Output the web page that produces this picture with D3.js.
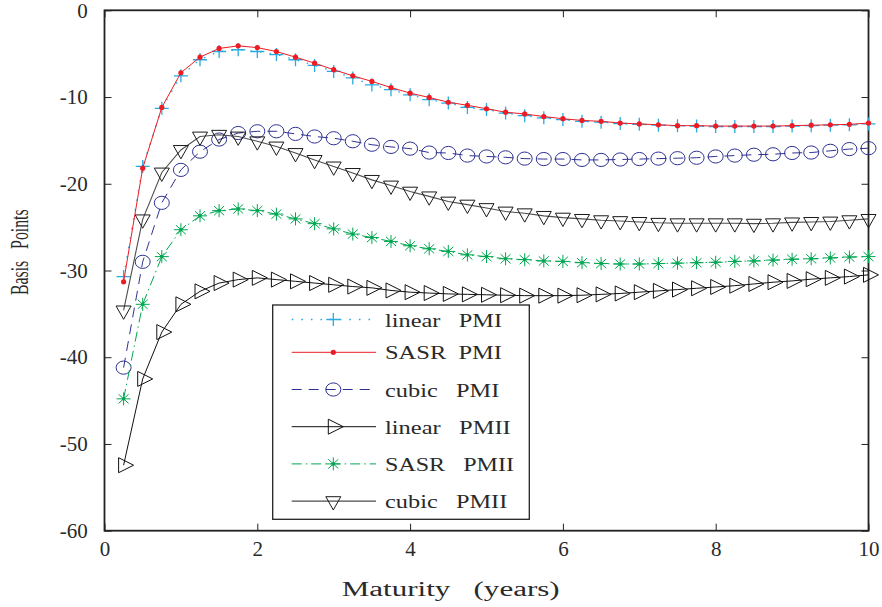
<!DOCTYPE html>
<html><head><meta charset="utf-8">
<script src="https://cdn.jsdelivr.net/npm/d3@7"></script>
<style>
body{margin:0;background:#fff}
svg{display:block}
text{font-family:"Liberation Serif","Times New Roman",serif;fill:#2a2a2a}
</style>
</head><body>
<svg id="c" width="882" height="607"></svg>
<script>
// ---------- data ----------
const maturity = [0.25,0.5,0.75,1,1.25,1.5,1.75,2,2.25,2.5,2.75,3,3.25,3.5,3.75,4,4.25,4.5,4.75,5,
  5.25,5.5,5.75,6,6.25,6.5,6.75,7,7.25,7.5,7.75,8,8.25,8.5,8.75,9,9.25,9.5,9.75,10];
const linearPMI = [-30.7,-18.0,-11.3,-7.55,-5.7,-4.75,-4.55,-4.75,-5.1,-5.7,-6.35,-7.05,-7.8,-8.6,-9.15,-9.75,-10.3,-10.7,-11.2,-11.45,
  -11.85,-12.15,-12.4,-12.6,-12.8,-12.9,-13.05,-13.15,-13.25,-13.3,-13.35,-13.4,-13.4,-13.4,-13.4,-13.35,-13.3,-13.25,-13.2,-13.1];
const sasrPMI = [-31.3,-18.2,-11.2,-7.2,-5.4,-4.4,-4.1,-4.3,-4.75,-5.4,-6.1,-6.85,-7.55,-8.2,-8.9,-9.55,-10.05,-10.6,-10.95,-11.35,
  -11.75,-11.95,-12.25,-12.5,-12.7,-12.8,-13.0,-13.1,-13.2,-13.3,-13.3,-13.35,-13.35,-13.35,-13.35,-13.3,-13.25,-13.2,-13.15,-13.0];
const cubicPMI = [-41.2,-29.0,-22.2,-18.4,-16.3,-14.9,-14.15,-13.95,-13.95,-14.25,-14.55,-14.75,-15.1,-15.5,-15.75,-15.95,-16.4,-16.45,-16.75,-16.85,
  -16.95,-17.1,-17.15,-17.15,-17.25,-17.25,-17.2,-17.15,-17.1,-17.05,-17.0,-16.85,-16.75,-16.65,-16.6,-16.45,-16.4,-16.2,-16.0,-15.9];
const linearPMII = [-52.45,-42.5,-37.1,-33.9,-32.4,-31.45,-31.05,-30.85,-31.05,-31.25,-31.45,-31.65,-31.85,-32.0,-32.3,-32.5,-32.6,-32.7,-32.75,-32.8,
  -32.85,-32.9,-32.9,-32.9,-32.85,-32.75,-32.65,-32.5,-32.35,-32.2,-32.05,-31.9,-31.75,-31.55,-31.35,-31.2,-31.0,-30.85,-30.7,-30.5];
const sasrPMII = [-44.8,-33.9,-28.4,-25.3,-23.7,-23.1,-22.9,-23.1,-23.5,-24.05,-24.6,-25.2,-25.8,-26.2,-26.65,-27.15,-27.5,-27.8,-28.2,-28.4,
  -28.65,-28.75,-28.9,-28.95,-29.1,-29.2,-29.25,-29.25,-29.2,-29.15,-29.1,-29.05,-28.95,-28.9,-28.8,-28.7,-28.65,-28.55,-28.45,-28.4];
const cubicPMII = [-34.6,-24.1,-18.7,-16.1,-14.55,-14.35,-14.55,-15.1,-15.7,-16.45,-17.25,-18.0,-18.75,-19.55,-20.2,-20.9,-21.45,-22.05,-22.4,-22.8,
  -23.2,-23.4,-23.7,-23.9,-24.05,-24.2,-24.3,-24.4,-24.5,-24.55,-24.55,-24.55,-24.55,-24.6,-24.55,-24.45,-24.4,-24.35,-24.2,-24.05];
const seriesLabels = ["linear   PMI","SASR  PMI","cubic   PMI","linear   PMII","SASR   PMII","cubic   PMII"];
const xTicks = [0,2,4,6,8,10];
const yTicks = [0,-10,-20,-30,-40,-50,-60];
const xLabel = "Maturity   (years)";
const yLabel = "Basis   Points";

// ---------- styles ----------
const styles = [
  {values: linearPMI, line:"#29abe2", mcol:"#29abe2", dash:"1.6,8", marker:"plus", lw:1.3},
  {values: sasrPMI,   line:"#ed1c24", mcol:"#ed1c24", dash:null, marker:"dot", lw:1},
  {values: cubicPMI,  line:"#2e3192", mcol:"#2e3192", dash:"10,7", marker:"circle", lw:1},
  {values: linearPMII,line:"#111",    mcol:"#111",    dash:null, marker:"triRight", lw:1},
  {values: sasrPMII,  line:"#00a651", mcol:"#00a651", dash:"10,4,1.5,4", marker:"star", lw:1},
  {values: cubicPMII, line:"#4d4d4d", mcol:"#1a1a1a", dash:null, marker:"triDown", lw:1.1}
];
const legendText = {len:[117,117,114.3,125.7,129,122.3]};
const legendRows = [319.5,352.3,389.5,426.7,463.9,501.1];

// ---------- scales ----------
const svg = d3.select("#c");
const x = d3.scaleLinear().domain([0,10]).range([104.5,868.5]);
const y = d3.scaleLinear().domain([-60,0]).range([530.7,10.3]);

// axes (inward ticks)
const fmt = d => String(d);
const gL = svg.append("g").attr("transform",`translate(${x(0)},0)`)
  .call(d3.axisLeft(y).tickValues(yTicks).tickSize(-7).tickPadding(16.8).tickFormat(fmt));
const gB = svg.append("g").attr("transform",`translate(0,${y(-60)})`)
  .call(d3.axisBottom(x).tickValues(xTicks).tickSize(-7).tickPadding(10.3).tickFormat(fmt));
const gT = svg.append("g").attr("transform",`translate(0,${y(0)})`)
  .call(d3.axisTop(x).tickValues(xTicks).tickSize(-7).tickFormat(""));
const gR = svg.append("g").attr("transform",`translate(${x(10)},0)`)
  .call(d3.axisRight(y).tickValues(yTicks).tickSize(-7).tickFormat(""));
[gL,gB,gT,gR].forEach(g=>{
  g.select(".domain").remove();
  g.selectAll(".tick line").attr("stroke","#222").attr("stroke-width",1);
  g.selectAll(".tick text").attr("font-size",21);
});

// frame
svg.append("rect").attr("x",x(0)).attr("y",y(0)).attr("width",x(10)-x(0)).attr("height",y(-60)-y(0))
  .attr("fill","none").attr("stroke","#222").attr("stroke-width",1.8);

// markers
function drawMarker(g, type, col){
  switch(type){
    case "plus": g.append("path").attr("d","M-7,0H7M0,-6.5V6.5").attr("stroke",col).attr("stroke-width",1.3).attr("fill","none"); break;
    case "dot": g.append("circle").attr("r",2.6).attr("fill",col); break;
    case "circle": g.append("ellipse").attr("rx",7.5).attr("ry",6.6).attr("fill","none").attr("stroke",col).attr("stroke-width",1); break;
    case "triRight": g.append("path").attr("d","M-5,-7.5L10,0L-5,7.5Z").attr("fill","none").attr("stroke",col).attr("stroke-width",1); break;
    case "star":
      g.append("path").attr("d","M-7,0H7M0,-6.5V6.5M-5,-4.6L5,4.6M-5,4.6L5,-4.6").attr("stroke",col).attr("stroke-width",1).attr("fill","none");
      g.append("circle").attr("r",1.8).attr("fill",col); break;
    case "triDown": g.append("path").attr("d","M-7.5,-4.4L7.5,-4.4L0,8.9Z").attr("fill","none").attr("stroke",col).attr("stroke-width",1); break;
  }
}

const lineGen = d3.line().x((d,i)=>x(maturity[i])).y(d=>y(d));
styles.forEach(s=>{
  const g = svg.append("g");
  g.append("path").attr("d", lineGen(s.values)).attr("fill","none")
    .attr("stroke", s.line).attr("stroke-width", s.lw)
    .attr("stroke-dasharray", s.dash);
  s.values.forEach((v,i)=>{
    const mg = g.append("g").attr("transform",`translate(${x(maturity[i])},${y(v)})`);
    drawMarker(mg, s.marker, s.mcol);
  });
});

// legend
const lg = svg.append("g");
lg.append("rect").attr("x",272.7).attr("y",305).attr("width",256.6).attr("height",214.3)
  .attr("fill","#fff").attr("stroke","#222").attr("stroke-width",1.3);
styles.forEach((s,i)=>{
  const ly = legendRows[i];
  lg.append("line").attr("x1",291.7).attr("x2",376).attr("y1",ly).attr("y2",ly)
    .attr("stroke",s.line).attr("stroke-width",s.lw).attr("stroke-dasharray",s.dash);
  const mg = lg.append("g").attr("transform",`translate(333.3,${ly})`);
  drawMarker(mg, s.marker, s.mcol);
  lg.append("text").attr("x",385).attr("y",ly+7).attr("font-size",19)
    .style("white-space","pre")
    .attr("textLength",legendText.len[i]).attr("lengthAdjust","spacingAndGlyphs")
    .text(seriesLabels[i]);
});

// axis titles
svg.append("text").attr("x",341.7).attr("y",596).attr("font-size",20)
  .style("white-space","pre").attr("textLength",218).attr("lengthAdjust","spacingAndGlyphs")
  .text(xLabel);
svg.append("text").attr("transform","translate(28.3,252.2) scale(1.4,1) rotate(-90)")
  .attr("text-anchor","middle").attr("font-size",17.5)
  .style("white-space","pre").attr("textLength",85.7).attr("lengthAdjust","spacingAndGlyphs")
  .text(yLabel);
</script>
</body></html>
